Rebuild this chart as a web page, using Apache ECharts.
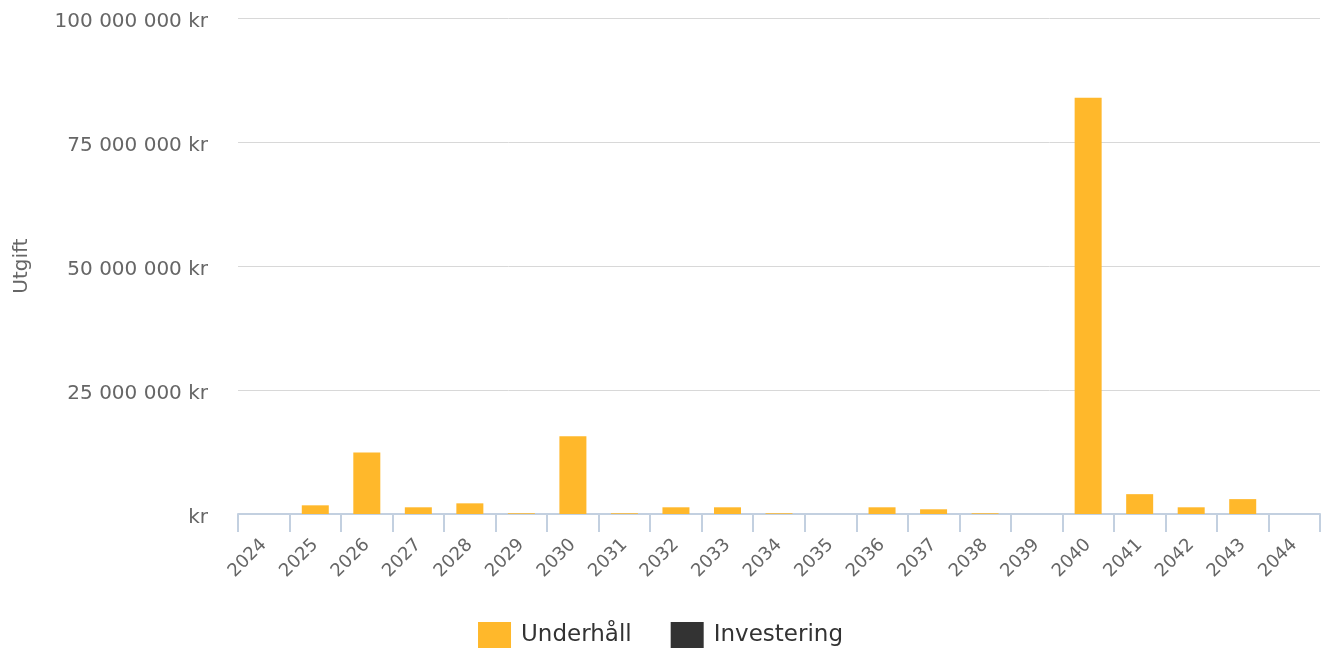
<!DOCTYPE html>
<html>
<head>
<meta charset="utf-8">
<script src="https://cdn.jsdelivr.net/npm/echarts@6/dist/echarts.min.js"></script>
<style>
  html, body { margin: 0; padding: 0; background: #fff; }
  #main { width: 1321px; height: 651px; }
</style>
</head>
<body>
<div id="main"></div>
<script>
	// år på x-axeln
	var years = ['2024', '2025', '2026', '2027', '2028', '2029', '2030', '2031', '2032', '2033', '2034',
		'2035', '2036', '2037', '2038', '2039', '2040', '2041', '2042', '2043', '2044'];
	// utgifter i kr
	var underhall = [0, 1750000, 12400000, 1350000, 2150000, 150000, 15700000, 150000, 1350000, 1350000, 150000,
		0, 1350000, 950000, 150000, 0, 83900000, 4000000, 1350000, 3000000, 0];
	var investering = [0, 0, 0, 0, 0, 0, 0, 0, 0, 0, 0, 0, 0, 0, 0, 0, 0, 0, 0, 0, 0];

	var fontName = '"DejaVu Sans", sans-serif';

	function formatKr(v) {
		if (v === 0) return 'kr';
		return String(Math.round(v)).replace(/\B(?=(\d{3})+(?!\d))/g, ' ') + ' kr';
	}

	var myChart = echarts.init(document.getElementById('main'));

	var option = {
		animation : false,
		textStyle : { fontFamily : fontName },
		legend : {
			bottom : 3,
			left : 'center',
			padding : 0,
			itemWidth : 33,
			itemHeight : 26,
			itemGap : 39,
			icon : 'rect',
			textStyle : { fontSize : 23, color : '#333', fontFamily : fontName, padding : [0, 0, 0, 5] },
			data : [ 'Underhåll', 'Investering' ]
		},
		grid : {
			left : 238,
			right : 1,
			top : 18,
			bottom : 137,
			containLabel : false
		},
		xAxis : [ {
			type : 'category',
			data : years,
			boundaryGap : true,
			axisLine : { lineStyle : { color : '#c3d0e0', width : 2 } },
			axisTick : { show : true, length : 18, alignWithLabel : false, lineStyle : { color : '#c3d0e0', width : 2 } },
			axisLabel : {
				rotate : 45,
				interval : 0,
				fontSize : 18,
				color : '#666',
				fontFamily : fontName,
				margin : 28
			}
		} ],
		yAxis : [ {
			type : 'value',
			name : 'Utgift',
			nameLocation : 'middle',
			nameGap : 206,
			nameRotate : 90,
			nameTextStyle : { fontSize : 20, color : '#666', fontFamily : fontName },
			min : 0,
			max : 100000000,
			interval : 25000000,
			axisLine : { show : false },
			axisTick : { show : false },
			splitLine : { lineStyle : { color : '#d8d8d8', width : 1 } },
			axisLabel : {
				formatter : formatKr,
				fontSize : 20,
				color : '#666',
				fontFamily : fontName,
				margin : 30,
				verticalAlign : 'top',
				lineHeight : 7
			}
		} ],
		series : [ {
			name : 'Underhåll',
			type : 'bar',
			stack : 'total',
			barWidth : 27,
			itemStyle : { color : '#ffb82b' },
			data : underhall
		}, {
			name : 'Investering',
			type : 'bar',
			stack : 'total',
			barWidth : 27,
			itemStyle : { color : '#333333' },
			data : investering
		} ]
	};
	myChart.setOption(option);
</script>
</body>
</html>
